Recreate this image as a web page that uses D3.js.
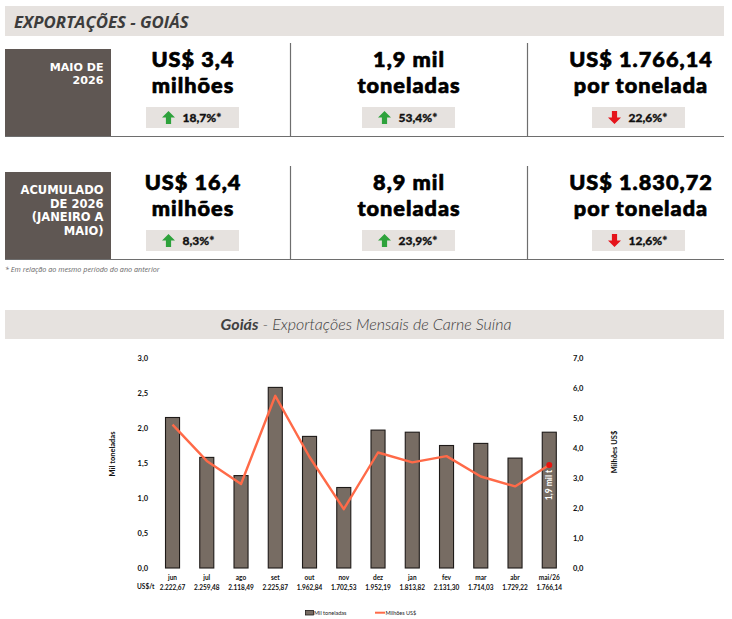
<!DOCTYPE html>
<html><head><meta charset="utf-8">
<script src="https://cdn.jsdelivr.net/npm/d3@7"></script>
<style>
html,body{margin:0;padding:0;background:#fff;}
svg{display:block;}
</style></head>
<body>
<script>
// ---------- DATA ----------
const months = ["jun","jul","ago","set","out","nov","dez","jan","fev","mar","abr","mai/26"];
const milToneladas = [2.15,1.58,1.32,2.58,1.88,1.15,1.97,1.94,1.75,1.78,1.57,1.94];
const milhoesUS = [4.78,3.57,2.80,5.74,3.70,1.96,3.85,3.52,3.73,3.05,2.72,3.43];
const precoUSt = ["2.222,67","2.259,48","2.118,49","2.225,87","1.962,84","1.702,53","1.952,19","1.813,82","2.131,30","1.714,03","1.729,22","1.766,14"];
const leftTicks = [0,0.5,1.0,1.5,2.0,2.5,3.0];
const rightTicks = [0,1,2,3,4,5,6,7];

const kpiPeriods = [["MAIO DE","2026"],["ACUMULADO","DE 2026","(JANEIRO A","MAIO)"]];
const kpiValues = [
  [["US$ 3,4","milhões"],["1,9 mil","toneladas"],["US$ 1.766,14","por tonelada"]],
  [["US$ 16,4","milhões"],["8,9 mil","toneladas"],["US$ 1.830,72","por tonelada"]]
];
const kpiChanges = [["18,7%*","53,4%*","22,6%*"],["8,3%*","23,9%*","12,6%*"]];
const kpiUp = [[true,true,false],[true,true,false]];

// ---------- SVG ----------
const W = 732, H = 619;
const svg = d3.select("body").append("svg").attr("width", W).attr("height", H);
const dark = "#5f5753", light = "#e6e2df";

// Header
svg.append("rect").attr("x",5).attr("y",6).attr("width",719).attr("height",30).attr("fill",light);
svg.append("text").attr("x",14).attr("y",27.5).text("EXPORTAÇÕES - GOIÁS")
  .attr("font-family","Open Sans").attr("font-weight",700).attr("font-style","italic")
  .attr("font-size",16.8).attr("fill","#3c3c3c");

// KPI rows
const rows = [{top:49,bottom:136,divTop:43,base1:67,base2:93.2,badgeY:107,pStart:70.5,pGap:13,pSize:11.1},
              {top:172,bottom:259,divTop:166,base1:189.8,base2:216,badgeY:230,pStart:194,pGap:13.5,pSize:11.5}];
const cellCx = [193,409,641];
const badgeCx = [192.5,408.5,638.5];
rows.forEach((r,i)=>{
  svg.append("rect").attr("x",5).attr("y",r.top).attr("width",106).attr("height",r.bottom-r.top).attr("fill",dark);
  kpiPeriods[i].forEach((t,j)=>{
    svg.append("text").attr("x",103.5).attr("y",r.pStart+j*r.pGap).attr("text-anchor","end")
      .attr("font-family","'DejaVu Sans'").attr("font-weight",700)
      .attr("font-size",r.pSize).attr("fill","#fff").text(t);
  });
  svg.append("line").attr("x1",5).attr("x2",724).attr("y1",r.bottom+0.5).attr("y2",r.bottom+0.5).attr("stroke","#6e6e6e").attr("stroke-width",1.2);
  [290,527].forEach(x=>{
    svg.append("line").attr("x1",x+0.5).attr("x2",x+0.5).attr("y1",r.divTop).attr("y2",r.bottom).attr("stroke","#6e6e6e").attr("stroke-width",1.2);
  });
  kpiValues[i].forEach((v,k)=>{
    const cx = cellCx[k];
    [r.base1,r.base2].forEach((b,m)=>{
      svg.append("text").attr("x",cx).attr("y",b).attr("text-anchor","middle")
        .attr("font-family","Lato").attr("font-weight",900).attr("font-size",21.7)
        .attr("letter-spacing",1.0).attr("fill","#000")
        .attr("stroke","#000").attr("stroke-width",0.7).attr("stroke-linejoin","round").text(v[m]);
    });
    const bcx = badgeCx[k];
    svg.append("rect").attr("x",bcx-46.5).attr("y",r.badgeY).attr("width",93).attr("height",21).attr("fill",light);
    const up = kpiUp[i][k];
    const ax = bcx-24, ay = r.badgeY+10.5;
    const path = up
      ? `M${ax},${ay-6.5} L${ax+6.5},${ay} L${ax+2.6},${ay} L${ax+2.6},${ay+6.5} L${ax-2.6},${ay+6.5} L${ax-2.6},${ay} L${ax-6.5},${ay} Z`
      : `M${ax},${ay+6.5} L${ax+6.5},${ay} L${ax+2.6},${ay} L${ax+2.6},${ay-6.5} L${ax-2.6},${ay-6.5} L${ax-2.6},${ay} L${ax-6.5},${ay} Z`;
    svg.append("path").attr("d",path).attr("fill",up?"#2ea23c":"#e5141b");
    svg.append("text").attr("x",bcx-10).attr("y",r.badgeY+14.5)
      .attr("font-family","Lato").attr("font-weight",900).attr("font-size",12)
      .attr("fill","#111").attr("stroke","#111").attr("stroke-width",0.3).text(kpiChanges[i][k]);
  });
});

svg.append("text").attr("x",5).attr("y",272).text("* Em relação ao mesmo período do ano anterior")
  .attr("font-family","Open Sans").attr("font-style","italic").attr("font-size",7.2).attr("fill","#666");

// Chart title bar
svg.append("rect").attr("x",5).attr("y",310).attr("width",719).attr("height",29).attr("fill",light);
const tt = svg.append("text").attr("x",366).attr("y",330).attr("text-anchor","middle")
  .attr("font-family","Lato").attr("font-style","italic").attr("font-size",16).attr("fill","#404040");
tt.append("tspan").attr("font-weight",700).text("Goiás");
tt.append("tspan").attr("font-weight",300).text(" - Exportações Mensais de Carne Suína");

// ---------- CHART ----------
const x = d3.scaleBand().domain(months).range([155.4,566.4]).paddingInner(0.59).paddingOuter(0.295);
const yL = d3.scaleLinear().domain([0,3]).range([568,358]);
const yR = d3.scaleLinear().domain([0,7]).range([568,358]);
const lblFont = "Lato";

const leftAxis = d3.axisLeft(yL).tickValues(leftTicks).tickSize(0).tickPadding(0)
  .tickFormat(d=>d3.format(".1f")(d).replace(".",","));
const gL = svg.append("g").attr("transform","translate(148,0)").call(leftAxis);
gL.select(".domain").remove();
gL.selectAll("text").attr("font-family",lblFont).attr("font-weight",700).attr("font-size",7.5).attr("fill","#111");

const rightAxis = d3.axisRight(yR).tickValues(rightTicks).tickSize(0).tickPadding(0)
  .tickFormat(d=>d3.format(".1f")(d).replace(".",","));
const gR = svg.append("g").attr("transform","translate(573,0)").call(rightAxis);
gR.select(".domain").remove();
gR.selectAll("text").attr("font-family",lblFont).attr("font-weight",700).attr("font-size",7.5).attr("fill","#111");

svg.append("text").attr("transform","translate(115,454) rotate(-90)").attr("text-anchor","middle")
  .attr("font-family",lblFont).attr("font-weight",700).attr("font-size",7.5).attr("fill","#111").text("Mil toneladas");
svg.append("text").attr("transform","translate(617,452) rotate(-90)").attr("text-anchor","middle")
  .attr("font-family",lblFont).attr("font-weight",700).attr("font-size",7.5).attr("fill","#111").text("Milhões US$");

// bars
svg.append("g").selectAll("rect").data(months).join("rect")
  .attr("x",d=>x(d)).attr("width",x.bandwidth())
  .attr("y",(d,i)=>yL(milToneladas[i])).attr("height",(d,i)=>yL(0)-yL(milToneladas[i]))
  .attr("fill","#776c63").attr("stroke","#1e1a18").attr("stroke-width",1.1);

// line
const cx = d=>x(d)+x.bandwidth()/2;
const line = d3.line().x((d,i)=>cx(months[i])).y(d=>yR(d));
svg.append("path").datum(milhoesUS).attr("d",line).attr("fill","none")
  .attr("stroke","#ff6a48").attr("stroke-width",2.4).attr("stroke-linejoin","round");
const last = months.length-1;
svg.append("circle").attr("cx",cx(months[last])).attr("cy",yR(milhoesUS[last])).attr("r",3).attr("fill","#e8150f");

svg.append("text").attr("transform",`translate(${cx(months[last])+3},485) rotate(-90)`).attr("text-anchor","middle")
  .attr("font-family",lblFont).attr("font-weight",700).attr("font-size",8.5).attr("fill","#fff").text("1,9 mil t");

// month labels
svg.append("g").selectAll("text").data(months).join("text")
  .attr("x",d=>cx(d)).attr("y",579.5).attr("text-anchor","middle")
  .attr("font-family",lblFont).attr("font-weight",700).attr("font-size",6.5).attr("fill","#111").text(d=>d);
svg.append("text").attr("x",137).attr("y",589).attr("font-family",lblFont).attr("font-weight",700)
  .attr("font-size",6.5).attr("fill","#111").text("US$/t");
svg.append("g").selectAll("text").data(precoUSt).join("text")
  .attr("x",(d,i)=>cx(months[i])).attr("y",590).attr("text-anchor","middle")
  .attr("font-family",lblFont).attr("font-weight",700).attr("font-size",6.5).attr("fill","#111").text(d=>d);

// legend
svg.append("rect").attr("x",305.5).attr("y",610.5).attr("width",8).attr("height",4.5)
  .attr("fill","#776c63").attr("stroke","#1e1a18").attr("stroke-width",0.8);
svg.append("text").attr("x",314).attr("y",615).attr("font-family",lblFont).attr("font-size",5.5).attr("fill","#222").text("Mil toneladas");
svg.append("line").attr("x1",375).attr("x2",385).attr("y1",612.7).attr("y2",612.7).attr("stroke","#ff6a48").attr("stroke-width",2);
svg.append("text").attr("x",385.5).attr("y",615).attr("font-family",lblFont).attr("font-size",5.5).attr("fill","#222").text("Milhões US$");
</script>
</body></html>
